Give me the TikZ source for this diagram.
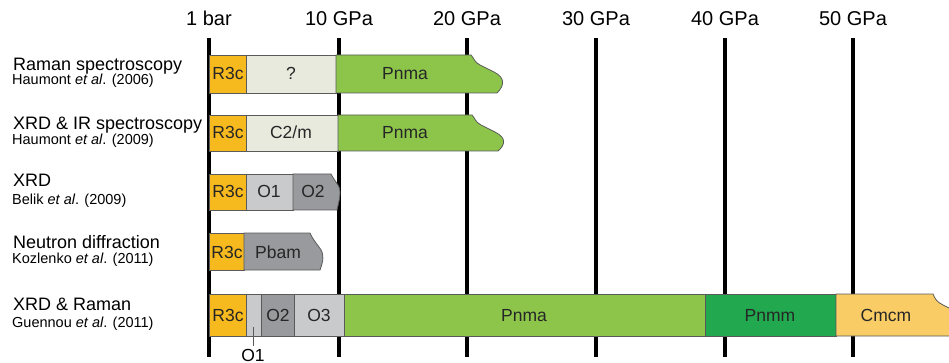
\documentclass[tikz,border=0pt]{standalone}
\usepackage{fontspec}
\setmainfont{Liberation Sans}
\definecolor{cR}{RGB}{246,185,30}
\definecolor{cQ}{RGB}{232,234,222}
\definecolor{cPnma}{RGB}{141,197,75}
\definecolor{cPnmm}{RGB}{34,168,78}
\definecolor{cCmcm}{RGB}{250,204,102}
\definecolor{cLight}{RGB}{201,202,204}
\definecolor{cDark}{RGB}{152,154,157}
\definecolor{edge}{RGB}{90,90,90}
\begin{document}
\begin{tikzpicture}[x=1pt,y=-1pt,
  gridline/.style={line width=4pt, black},
  phase/.style={draw=edge, line width=0.8pt},
  lbl/.style={font=\fontsize{17.5}{20}\selectfont, text=black!85, anchor=base, inner sep=0pt},
  head/.style={font=\fontsize{20}{23}\selectfont, anchor=base, inner sep=0pt},
  title/.style={font=\fontsize{18}{21}\selectfont, anchor=base west, inner sep=0pt},
  ref/.style={font=\fontsize{14.5}{17}\selectfont, anchor=base west, inner sep=0pt}]
\useasboundingbox (0,0) rectangle (949,363);

% axis labels
\node[head] (h1) at (209,26) {1 bar};
\node[head] (h2) at (339,26) {10 GPa};
\node[head] (h3) at (467,26) {20 GPa};
\node[head] (h4) at (596,26) {30 GPa};
\node[head] (h5) at (725,26) {40 GPa};
\node[head] (h6) at (853,26) {50 GPa};

% grid lines
\foreach \i/\x in {1/209,2/339,3/467,4/596,5/725,6/853}{
  \coordinate (t\i) at (\x,38);
  \coordinate (b\i) at (\x,357);
  \draw[gridline] (t\i) -- (b\i);
}

% row 1
\path[phase, fill=cR] (209,55) rectangle (246,93);
\path[phase, fill=cQ] (246,55) rectangle (336,93);
\path[phase, fill=cPnma] (336,55) -- (471,55) .. controls (474,58) and (474,62) .. (480,65)
  -- (494,72) .. controls (506,78) and (504,86) .. (497,93) -- (336,93) -- cycle;
\node[lbl] (r1a) at (228,80) {R3c};
\node[lbl] (r1b) at (291,80) {?};
\node[lbl] (r1c) at (405,80) {Pnma};

% row 2
\path[phase, fill=cR] (209,115) rectangle (246,151);
\path[phase, fill=cQ] (246,115) rectangle (338,151);
\path[phase, fill=cPnma] (338,115) -- (472,115) .. controls (475,118) and (475,122) .. (481,125)
  -- (495,132) .. controls (507,138) and (505,145) .. (498,151) -- (338,151) -- cycle;
\node[lbl] (r2a) at (228,139) {R3c};
\node[lbl] (r2b) at (291,139) {C2/m};
\node[lbl] (r2c) at (405,139) {Pnma};

% row 3
\path[phase, fill=cR] (209,174) rectangle (246,210);
\path[phase, fill=cLight] (246,174) rectangle (293,210);
\path[phase, fill=cDark] (293,174) -- (331,174) .. controls (333,178) and (336,182) .. (338,185)
  .. controls (342,191) and (339,201) .. (337,210) -- (293,210) -- cycle;
\node[lbl] (r3a) at (228,198) {R3c};
\node[lbl] (r3b) at (269,198) {O1};
\node[lbl] (r3c) at (313,198) {O2};

% row 4
\path[phase, fill=cR] (209,233) rectangle (244,270);
\path[phase, fill=cDark] (244,233) -- (310,233) .. controls (312,238) and (316,243) .. (319,247)
  .. controls (325,254) and (323,262) .. (320,270) -- (244,270) -- cycle;
\node[lbl] (r4a) at (227,258) {R3c};
\node[lbl] (r4b) at (278,258) {Pbam};

% row 5
\path[phase, fill=cR] (209,294) rectangle (246,336);
\path[phase, fill=cLight] (246,294) rectangle (261,336);
\path[phase, fill=cDark] (261,294) rectangle (294,336);
\path[phase, fill=cLight] (294,294) rectangle (344,336);
\path[phase, fill=cPnma] (344,294) rectangle (705,336);
\path[phase, fill=cPnmm] (705,294) rectangle (836,336);
\begin{scope}
\clip (0,0) rectangle (949,363);
\path[phase, fill=cCmcm] (836,294) -- (933,294) .. controls (935,299) and (937,302) .. (943,305)
  -- (955,311) -- (955,336) -- (836,336) -- cycle;
\end{scope}
\node[lbl] (r5a) at (228,321) {R3c};
\node[lbl] (r5c) at (278,321) {O2};
\node[lbl] (r5d) at (319,321) {O3};
\node[lbl] (r5e) at (524,321) {Pnma};
\node[lbl] (r5f) at (770,321) {Pnmm};
\node[lbl] (r5g) at (886,321) {Cmcm};

% O1 callout
\coordinate (o1c) at (253,327);
\node[lbl, text=black] (o1) at (253,361) {O1};
\draw[edge, line width=0.8pt] (o1c) -- (253,346);

% left labels
\node[title] (l1) at (13,71) {Raman spectroscopy};
\node[ref] (s1) at (12,85) {Haumont \textit{et al}. (2006)};
\node[title] (l2) at (13,130) {XRD \& IR spectroscopy};
\node[ref] (s2) at (12,145) {Haumont \textit{et al}. (2009)};
\node[title] (l3) at (13,187) {XRD};
\node[ref] (s3) at (12,205) {Belik \textit{et al}. (2009)};
\node[title] (l4) at (13,248) {Neutron diffraction};
\node[ref] (s4) at (12,263) {Kozlenko \textit{et al}. (2011)};
\node[title] (l5) at (13,310) {XRD \& Raman};
\node[ref] (s5) at (12,327) {Guennou \textit{et al}. (2011)};
\end{tikzpicture}
\end{document}
